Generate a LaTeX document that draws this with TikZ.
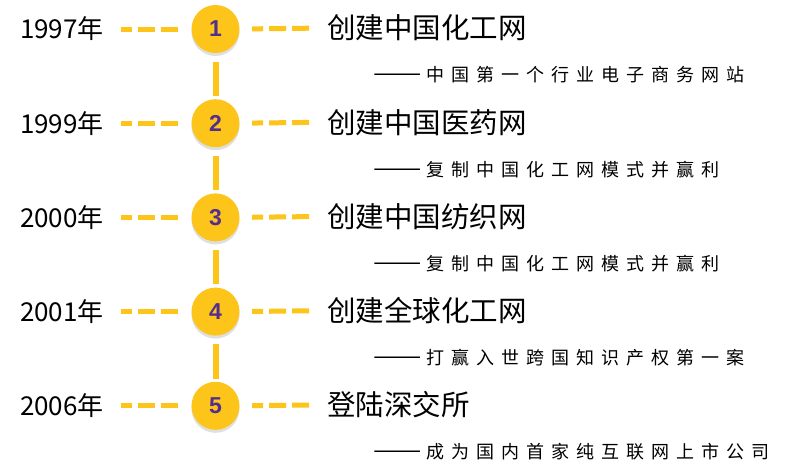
\documentclass[tikz,border=0pt]{standalone}
\usepackage{fontspec}
\usepackage{graphicx}
\setmainfont{Noto Sans CJK SC}
\newfontfamily\numfont{Liberation Sans}
\usetikzlibrary{shadows}
\definecolor{gold}{RGB}{253,197,26}
\definecolor{numpurple}{RGB}{84,46,140}
% one character every 25pt
\newcommand\spreadtext[1]{\spreadloop#1\relax}
\def\spreadloop#1{\ifx#1\relax\else\makebox[25pt][l]{#1}\expandafter\spreadloop\fi}
\tikzset{
	dot/.style={circle, fill=gold, minimum size=48pt, inner sep=0pt, text=numpurple,
		font=\numfont\bfseries\fontsize{23}{23}\selectfont,
		drop shadow={shadow xshift=0pt, shadow yshift=-3pt, opacity=0.25}},
	yearlabel/.style={anchor=east, inner sep=0pt, font=\fontsize{26}{26}\selectfont},
	titlelabel/.style={anchor=west, inner sep=0pt, font=\fontsize{28.5}{28.5}\selectfont},
	sublabel/.style={anchor=west, inner sep=0pt, font=\fontsize{18}{18}\selectfont},
	dashline/.style={gold, line width=5pt, dash pattern=on 17pt off 6pt, dash phase=6pt},
	link/.style={gold, line width=6pt}
}
\begin{document}
\begin{tikzpicture}[x=1pt, y=-1pt, line join=round]
	\useasboundingbox[fill=white] (0,0) rectangle (807,474);
	\foreach \i/\yr/\ttl/\sub in {1/1997/创建中国化工网/中国第一个行业电子商务网站,
		2/1999/创建中国医药网/复制中国化工网模式并赢利,
		3/2000/创建中国纺织网/复制中国化工网模式并赢利,
		4/2001/创建全球化工网/打赢入世跨国知识产权第一案,
		5/2006/登陆深交所/成为国内首家纯互联网上市公司}
	{
		\pgfmathsetmacro{\yy}{29+(\i-1)*94.2}
		\node[yearlabel] (y\i) at (104,\yy) {\yr 年};
		\node[dot] (c\i) at (215.5,\yy) {\i};
		\node[titlelabel] (t\i) at (327,\yy-1) {\ttl};
		\node[sublabel] (s\i) at (373,\yy+46) {{\fontsize{24}{24}\selectfont\scalebox{1.2}[1]{——}}\hspace{5pt}\expandafter\spreadtext\expandafter{\sub}};
		\draw[dashline, shorten <=17pt, shorten >=11.5pt] (y\i.east) -- (c\i.west);
		\draw[dashline, shorten <=12.5pt, shorten >=17pt] (c\i.east) -- (t\i.west);
	}
	\foreach \i [evaluate=\i as \j using int(\i+1)] in {1,...,4}
	\draw[link, shorten <=8.5pt, shorten >=3pt] (c\i) -- (c\j);
\end{tikzpicture}
\end{document}
